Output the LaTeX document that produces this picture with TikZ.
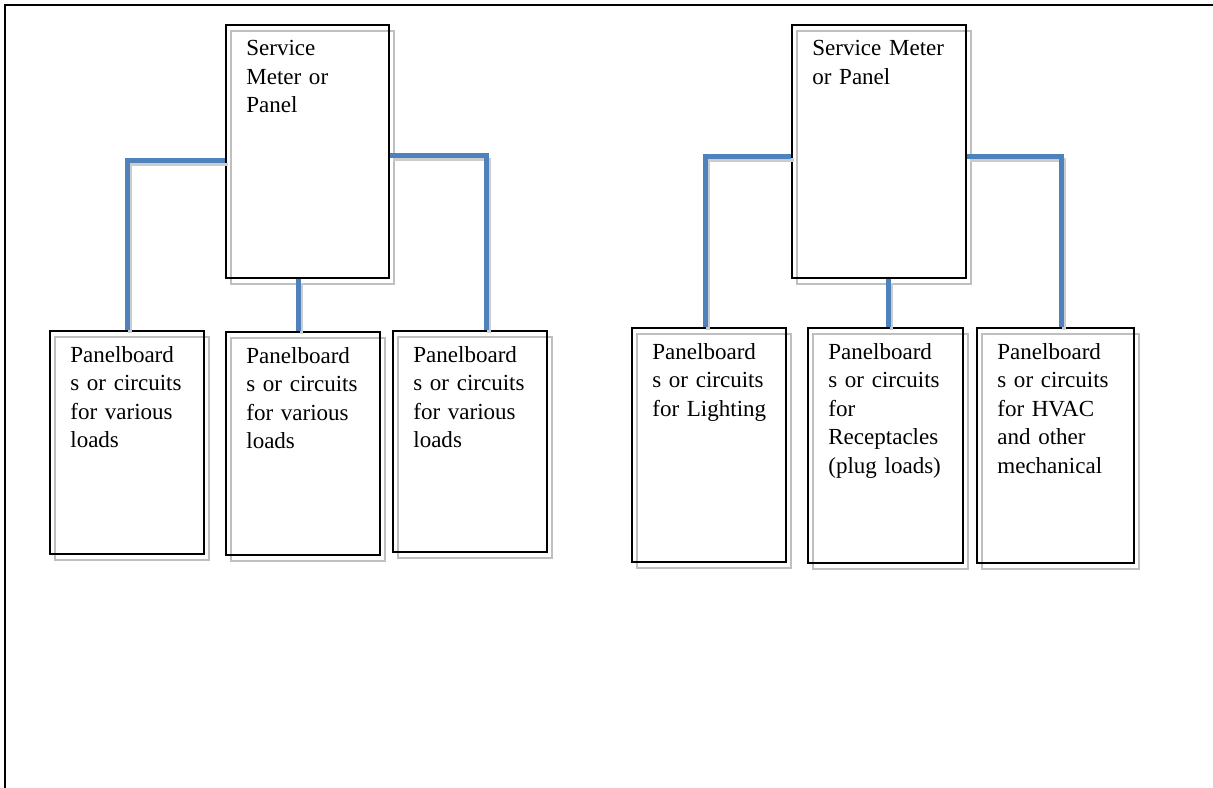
\documentclass[tikz,border=0pt]{standalone}
\usepackage{fontspec}
\setmainfont{Liberation Serif}
\usetikzlibrary{positioning,calc}
\definecolor{feedblue}{RGB}{79,129,189}
\tikzset{
  box/.style={draw,line width=0.4mm,inner sep=0pt,
    preaction={draw=gray!50,line width=0.3mm,transform canvas={shift={(1mm,-1.2mm)}}}},
  lbl/.style={anchor=north west,inner sep=0pt,align=left,text width=30mm,
    font=\fontsize{13.1pt}{16.2pt}\selectfont},
  feed/.style={draw=feedblue,line width=1mm,
    preaction={draw=gray!40,line width=0.7mm,transform canvas={shift={(0.6mm,-0.7mm)}}}},
  frame/.style={line width=0.5mm},
}

\begin{document}
\begin{tikzpicture}[x=0.2mm,y=-0.2mm]
  \useasboundingbox (0,0) rectangle (1213,788);
  \draw[frame] (1220,5) -- (5,5) -- (5,795);
  % left group
  \node[box,minimum width=32.6mm,minimum height=50.6mm] (s1) at (307.5,151.5) {};
  \node[box,minimum width=30.8mm,minimum height=44.6mm] (b1) at (127,442.5) {};
  \node[box,minimum width=30.8mm,minimum height=44.6mm] (b2) at (303,443.5) {};
  \node[box,minimum width=30.8mm,minimum height=44.2mm] (b3) at (470,441.5) {};
  \node[lbl,below right=3.2mm and 4.2mm of s1.north west] (s1t) {Service\\Meter or\\Panel};
  \node[lbl,below right=3.2mm and 4.2mm of b1.north west] (b1t) {Panelboard\\s or circuits\\for various\\loads};
  \node[lbl,below right=3.2mm and 4.2mm of b2.north west] (b2t) {Panelboard\\s or circuits\\for various\\loads};
  \node[lbl,below right=3.2mm and 4.2mm of b3.north west] (b3t) {Panelboard\\s or circuits\\for various\\loads};
  % right group
  \node[box,minimum width=34.8mm,minimum height=50.6mm] (s2) at (879,151.5) {};
  \node[box,minimum width=30.8mm,minimum height=46.8mm] (b4) at (709,445) {};
  \node[box,minimum width=31mm,minimum height=47mm] (b5) at (885.5,445.5) {};
  \node[box,minimum width=31.4mm,minimum height=47mm] (b6) at (1055.5,445.5) {};
  \node[lbl,below right=3.2mm and 4.2mm of s2.north west] (s2t) {Service Meter\\or Panel};
  \node[lbl,below right=3.2mm and 4.2mm of b4.north west] (b4t) {Panelboard\\s or circuits\\for Lighting};
  \node[lbl,below right=3.2mm and 4.2mm of b5.north west] (b5t) {Panelboard\\s or circuits\\for\\Receptacles\\(plug loads)};
  \node[lbl,below right=3.2mm and 4.2mm of b6.north west] (b6t) {Panelboard\\s or circuits\\for HVAC\\and other\\mechanical};
  % feeders
  \coordinate (t2) at ([xshift=-0.9mm]b2.north);
  \coordinate (t5) at ([xshift=0.6mm]b5.north);
  \draw[feed] ([yshift=-1.9mm]s1.west) -| (b1.north);
  \draw[feed] (t2 |- s1.south) -- (t2);
  \draw[feed] ([yshift=-0.9mm]s1.east) -| ([xshift=3.2mm]b3.north);
  \draw[feed] ([yshift=-1mm]s2.west) -| ([xshift=-0.8mm]b4.north);
  \draw[feed] (t5 |- s2.south) -- (t5);
  \draw[feed] ([yshift=-1mm]s2.east) -| ([xshift=1.1mm]b6.north);
\end{tikzpicture}
\end{document}
